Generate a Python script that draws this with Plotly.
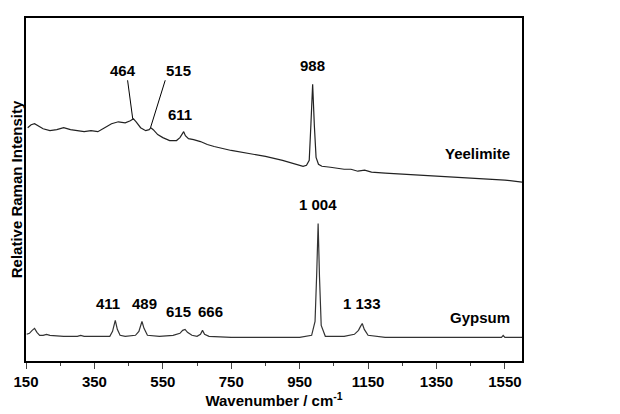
import plotly.graph_objects as go

# Yeelimite spectrum (wavenumber, relative intensity)
yee_x = [155, 165, 175, 185, 200, 220, 240, 260, 280, 300, 320, 340, 360, 380, 400, 420, 440, 455, 464, 472, 485, 500, 510, 515, 522, 535, 550, 570, 590, 600, 606, 611, 616, 625, 640, 660, 680, 700, 750, 800, 850, 900, 940, 960, 970, 978, 983, 988, 993, 998, 1005, 1015, 1040, 1080, 1100, 1120, 1140, 1160, 1200, 1250, 1300, 1350, 1400, 1450, 1500, 1550, 1600]
yee_y = [236, 239, 240, 238, 235, 233, 234, 236, 234, 233, 232, 233, 232, 236, 240, 242, 241, 243, 245, 242, 236, 233, 234, 236, 234, 229, 226, 223, 223, 226, 230, 232, 228, 225, 224, 222, 219, 217, 213, 210, 207, 203, 199, 197, 198, 203, 240, 280, 238, 206, 199, 197, 196, 194, 194, 192, 193, 191, 190, 189, 188, 187, 186, 185, 184, 183, 181]

# Gypsum spectrum
gyp_x = [152, 160, 168, 175, 182, 190, 200, 210, 220, 260, 300, 310, 320, 360, 395, 403, 411, 417, 425, 440, 470, 480, 489, 495, 505, 540, 580, 600, 608, 615, 622, 635, 650, 660, 666, 672, 685, 750, 850, 950, 985, 995, 1000, 1004, 1008, 1013, 1025, 1080, 1110, 1122, 1128, 1133, 1139, 1150, 1200, 1300, 1400, 1500, 1540, 1545, 1550, 1600]
gyp_y = [27, 28, 31, 33, 29, 26, 26, 27, 26, 25, 25, 26, 25, 25, 25, 30, 41, 32, 26, 25, 26, 30, 40, 33, 26, 25, 26, 28, 31, 32, 29, 26, 25, 27, 31, 27, 25, 24, 24, 24, 26, 40, 90, 139, 85, 36, 25, 25, 27, 31, 35, 38, 32, 26, 24, 24, 24, 24, 24, 26, 24, 24]

tick_vals = [150, 350, 550, 750, 950, 1150, 1350, 1550]

# label text, label x, label bottom y
peak_labels = [
    ("464", 435, 284), ("515", 595, 284), ("611", 600, 240), ("988", 988, 289),
    ("411", 389, 49), ("489", 496, 49), ("615", 595, 40), ("666", 689, 40),
    ("1 004", 1003, 149), ("1 133", 1133, 49),
]
# leader lines: (x0, y0, x1, y1)
leaders = [(447, 284, 462, 245), (557, 284, 514, 236)]

FONT = "Liberation Sans, Arial"
fig = go.Figure()
fig.add_trace(go.Scatter(x=yee_x, y=yee_y, mode="lines", line=dict(color="#222", width=1.2)))
fig.add_trace(go.Scatter(x=gyp_x, y=gyp_y, mode="lines", line=dict(color="#333", width=1.2)))

font = dict(family=FONT, size=15, color="black")
for txt, lx, ly in peak_labels:
    fig.add_annotation(x=lx, y=ly, text=f"<b>{txt}</b>", showarrow=False, yanchor="bottom",
                       font=font, borderpad=0)
for x0, y0, x1, y1 in leaders:
    fig.add_shape(type="line", x0=x0, y0=y0, x1=x1, y1=y1, line=dict(color="black", width=1))
fig.add_annotation(x=1572, y=210, text="<b>Yeelimite</b>", showarrow=False, xanchor="right", font=font)
fig.add_annotation(x=1570, y=44, text="<b>Gypsum</b>", showarrow=False, xanchor="right", font=font)

fig.update_layout(
    width=620, height=414, showlegend=False,
    plot_bgcolor="white", paper_bgcolor="white",
    margin=dict(l=18, r=106, t=10, b=61),
    xaxis=dict(range=[150, 1600], tickvals=tick_vals, ticktext=[f"<b>{v}</b>" for v in tick_vals],
               ticks="outside", ticklen=6, automargin=False,
               minor=dict(dtick=100, tick0=50, ticks="outside", ticklen=3),
               showgrid=False, zeroline=False, showline=True, mirror=True,
               linecolor="black", linewidth=1.5,
               tickfont=dict(family=FONT, size=15, color="black"),
               title=dict(text="<b>Wavenumber / cm<sup>-1</sup></b>", standoff=2,
                          font=dict(family=FONT, size=15, color="black"))),
    yaxis=dict(range=[0, 347], showticklabels=False, ticks="", showgrid=False, zeroline=False,
               automargin=False, showline=True, mirror=True, linecolor="black", linewidth=1.5,
               title=dict(text="<b>Relative Raman Intensity</b>", standoff=2,
                          font=dict(family=FONT, size=15, color="black"))),
)
fig.write_html("out.html")
